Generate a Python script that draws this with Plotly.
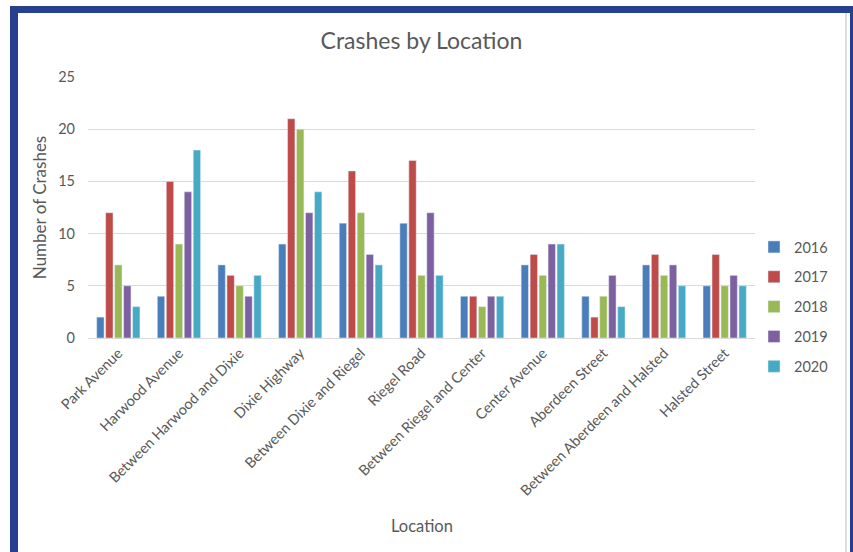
import plotly.graph_objects as go

locations = ["Park Avenue", "Harwood Avenue", "Between Harwood and Dixie", "Dixie Highway",
             "Between Dixie and Riegel", "Riegel Road", "Between Riegel and Center",
             "Center Avenue", "Aberdeen Street", "Between Aberdeen and Halsted", "Halsted Street"]
years = ["2016", "2017", "2018", "2019", "2020"]
crashes_2016 = [2, 4, 7, 9, 11, 11, 4, 7, 4, 7, 5]
crashes_2017 = [12, 15, 6, 21, 16, 17, 4, 8, 2, 8, 8]
crashes_2018 = [7, 9, 5, 20, 12, 6, 3, 6, 4, 6, 5]
crashes_2019 = [5, 14, 4, 12, 8, 12, 4, 9, 6, 7, 6]
crashes_2020 = [3, 18, 6, 14, 7, 6, 4, 9, 3, 5, 5]
series = [crashes_2016, crashes_2017, crashes_2018, crashes_2019, crashes_2020]
colors = ["#4A7EBB", "#BE4B48", "#98B954", "#7D60A0", "#46AAC5"]

W, H = 853, 552
L, R, T, B = 88, 98, 77, 214
pw, ph = W - L - R, H - T - B

def px(x):
    return (x - L) / pw

def py(y):
    return (H - B - y) / ph

fig = go.Figure()
for yr, vals, c in zip(years, series, colors):
    fig.add_trace(go.Bar(name=yr, x=locations, y=vals, marker_color=c,
                         legendgroup=yr))

frame = "#26408F"
shapes = [
    dict(type="rect", xref="paper", yref="paper", x0=px(10), x1=px(853), y0=py(13), y1=py(6),
         fillcolor=frame, line_width=0, layer="above"),
    dict(type="rect", xref="paper", yref="paper", x0=px(10), x1=px(18), y0=py(552), y1=py(6),
         fillcolor=frame, line_width=0, layer="above"),
    dict(type="rect", xref="paper", yref="paper", x0=px(850), x1=px(853), y0=py(552), y1=py(6),
         fillcolor=frame, line_width=0, layer="above"),
    dict(type="rect", xref="paper", yref="paper", x0=px(845), x1=px(847), y0=py(552), y1=py(13),
         fillcolor="#DDDDDD", line_width=0, layer="above"),
]

font = "Lato, 'Open Sans', sans-serif"
fig.update_layout(
    width=W, height=H,
    margin=dict(l=L, r=R, t=T, b=B),
    paper_bgcolor="white", plot_bgcolor="white",
    font=dict(family=font, color="#595959", size=13),
    title=dict(text="Crashes by Location", x=0.5, xref="paper", xanchor="center",
               y=1 - 41 / H, yanchor="middle", font=dict(size=23, color="#595959")),
    barmode="group", bargap=0.26, bargroupgap=0.18,
    legend=dict(x=px(754), y=py(307), xanchor="left", yanchor="middle",
                font=dict(size=14.5), tracegroupgap=8, traceorder="grouped",
                bgcolor="rgba(0,0,0,0)"),
    shapes=shapes,
    annotations=[dict(text="Location", xref="paper", yref="paper", x=0.5, y=py(526),
                      xanchor="center", yanchor="middle", showarrow=False,
                      font=dict(size=16.5, color="#595959"))],
)
fig.update_xaxes(tickangle=-45, showline=True, linecolor="#D9D9D9", linewidth=1,
                 ticks="", showgrid=False, tickfont=dict(size=14.5))
fig.update_yaxes(range=[0, 25], dtick=5, showgrid=True, gridcolor="#D9D9D9", gridwidth=1,
                 zeroline=False, showline=False, ticks="", ticklabelstandoff=12,
                 tickfont=dict(size=14.5),
                 title=dict(text="Number of Crashes", font=dict(size=17), standoff=7))

fig.write_html("out.html")
